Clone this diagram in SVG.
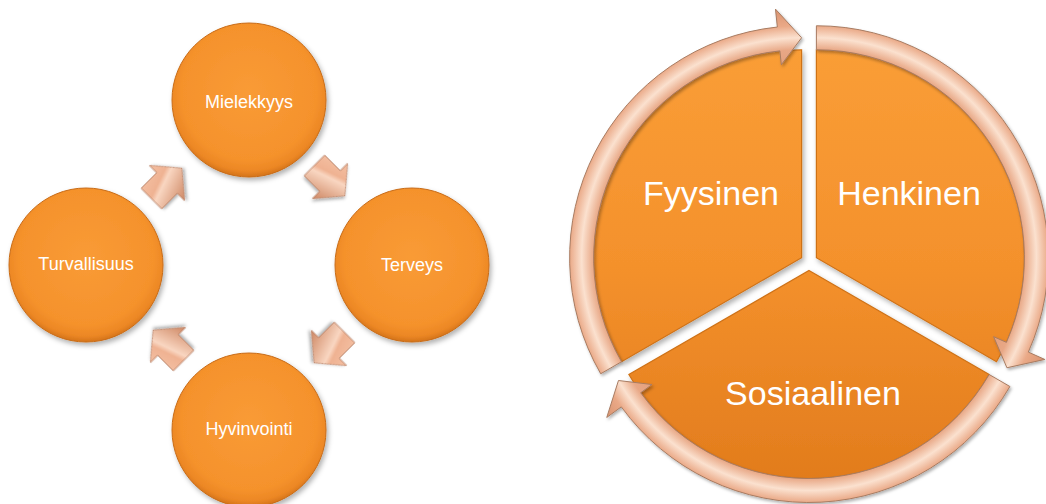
<svg xmlns="http://www.w3.org/2000/svg" width="1046" height="504" viewBox="0 0 1046 504">
<style>
.lbl{font-family:"Liberation Sans",Arial,sans-serif;fill:#ffffff;text-anchor:middle}
.sm{font-size:18px}
.lg{font-size:34px}
.circ{fill:url(#gCirc);stroke:#c86c18;stroke-width:1;filter:url(#sh)}
.sect{fill:url(#gSect);stroke:#cf7217;stroke-width:1.2;filter:url(#sh)}
.band{stroke:#a87c62;stroke-width:1;filter:url(#sh2)}
.arw{fill:url(#gArw);stroke:#b98266;stroke-width:0.8;filter:url(#sh2)}
</style>
<defs>
<filter id="sh" x="-10%" y="-10%" width="125%" height="125%">
<feDropShadow dx="2" dy="3" stdDeviation="2.5" flood-color="#000" flood-opacity="0.3"/>
</filter>
<filter id="sh2" x="-15%" y="-15%" width="135%" height="135%">
<feDropShadow dx="1.5" dy="2" stdDeviation="1.5" flood-color="#000" flood-opacity="0.3"/>
</filter>
<radialGradient id="gCirc" cx="0.5" cy="0.45" r="0.55">
<stop offset="0" stop-color="#f99b36"/>
<stop offset="0.8" stop-color="#f5922c"/>
<stop offset="0.93" stop-color="#ec8724"/>
<stop offset="1" stop-color="#d4731a"/>
</radialGradient>
<linearGradient id="gSect" gradientUnits="userSpaceOnUse" x1="0" y1="40" x2="0" y2="490">
<stop offset="0" stop-color="#fa9e37"/>
<stop offset="0.5" stop-color="#f4912c"/>
<stop offset="1" stop-color="#e17b1c"/>
</linearGradient>
<linearGradient id="gArw" x1="0" y1="0" x2="0.3" y2="1">
<stop offset="0" stop-color="#f6c6aa"/>
<stop offset="0.45" stop-color="#efb292"/>
<stop offset="0.55" stop-color="#f9d6c1"/>
<stop offset="1" stop-color="#d3906e"/>
</linearGradient>
<radialGradient id="gBf" gradientUnits="userSpaceOnUse" cx="801.6" cy="257.75" r="250">
<stop offset="0.776" stop-color="#e3a07e"/>
<stop offset="0.832" stop-color="#e8a785"/>
<stop offset="0.88" stop-color="#fbe1cf"/>
<stop offset="0.928" stop-color="#eaa987"/>
<stop offset="1" stop-color="#d99370"/>
</radialGradient>
<radialGradient id="gBh" gradientUnits="userSpaceOnUse" cx="816.4" cy="257.75" r="250">
<stop offset="0.776" stop-color="#e3a07e"/>
<stop offset="0.832" stop-color="#e8a785"/>
<stop offset="0.88" stop-color="#fbe1cf"/>
<stop offset="0.928" stop-color="#eaa987"/>
<stop offset="1" stop-color="#d99370"/>
</radialGradient>
<radialGradient id="gBs" gradientUnits="userSpaceOnUse" cx="809" cy="270.5" r="250">
<stop offset="0.776" stop-color="#e3a07e"/>
<stop offset="0.832" stop-color="#e8a785"/>
<stop offset="0.88" stop-color="#fbe1cf"/>
<stop offset="0.928" stop-color="#eaa987"/>
<stop offset="1" stop-color="#d99370"/>
</radialGradient>
<path id="blk" d="M -22 -14.5 L 0 -14.5 L 0 -25 L 21 0 L 0 25 L 0 14.5 L -22 14.5 Z"/>
</defs>

<g id="connectors">
<g id="cycle-arrows-left">
<use href="#blk" class="arw" transform="translate(167,183) rotate(-45)"/>
<use href="#blk" class="arw" transform="translate(330,181) rotate(45)"/>
<use href="#blk" class="arw" transform="translate(329,348) rotate(135)"/>
<use href="#blk" class="arw" transform="translate(168,345) rotate(225)"/>
</g>
</g>

<g id="node-mielekkyys">
<circle class="circ" cx="249" cy="100" r="77"/>
<text class="lbl sm" x="249" y="108">Mielekkyys</text>
</g>
<g id="node-terveys">
<circle class="circ" cx="412" cy="265" r="77"/>
<text class="lbl sm" x="412" y="271">Terveys</text>
</g>
<g id="node-hyvinvointi">
<circle class="circ" cx="249" cy="430" r="77"/>
<text class="lbl sm" x="249" y="435">Hyvinvointi</text>
</g>
<g id="node-turvallisuus">
<circle class="circ" cx="86" cy="265" r="77"/>
<text class="lbl sm" x="86" y="270">Turvallisuus</text>
</g>

<g id="node-fyysinen">
<path class="sect" d="M 801.6 257.75 L 801.6 49.75 A 208 208 0 0 0 621.5 361.75 Z"/>
<text class="lbl lg" x="711" y="205">Fyysinen</text>
</g>
<g id="node-henkinen">
<path class="sect" d="M 816.4 257.75 L 816.4 49.75 A 208 208 0 0 1 996.5 361.75 Z"/>
<text class="lbl lg" x="909" y="205">Henkinen</text>
</g>
<g id="node-sosiaalinen">
<path class="sect" d="M 809 270.5 L 989.13 374.5 A 208 208 0 0 1 628.87 374.5 Z"/>
<text class="lbl lg" x="813" y="405">Sosiaalinen</text>
</g>

<g id="connectors-pie">
<path class="band" fill="url(#gBf)" d="M 621.5 361.75 L 600.7 373.75 A 232 232 0 0 1 777.35 27.02 L 775.47 9.12 L 801.6 37.75 L 781.32 64.81 L 779.86 50.89 A 208 208 0 0 0 621.5 361.75 Z"/>
<path class="band" fill="url(#gBh)" d="M 816.4 49.75 L 816.4 25.75 A 232 232 0 0 1 1028.34 352.11 L 1044.79 359.44 L 1006.93 367.75 L 993.63 336.66 L 1006.42 342.35 A 208 208 0 0 0 816.4 49.75 Z"/>
<path class="band" fill="url(#gBs)" d="M 989.13 374.5 L 1009.92 386.5 A 232 232 0 0 1 621.31 406.87 L 606.75 417.45 L 618.47 380.5 L 652.05 384.53 L 640.72 392.76 A 208 208 0 0 0 989.13 374.5 Z"/>
</g>
</svg>
